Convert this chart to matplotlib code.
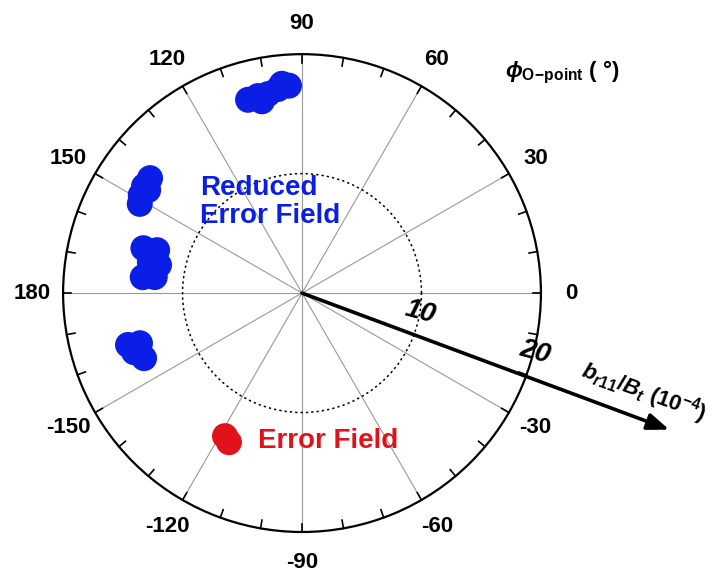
import numpy as np
import matplotlib.pyplot as plt

plt.rcParams['font.family'] = ['Liberation Sans', 'DejaVu Sans']
plt.rcParams['font.weight'] = 'bold'
plt.rcParams['mathtext.fontset'] = 'custom'
plt.rcParams['mathtext.it'] = 'Liberation Sans:italic:bold'
plt.rcParams['mathtext.rm'] = 'Liberation Sans:bold'
plt.rcParams['mathtext.bf'] = 'Liberation Sans:bold'

# O-point phase (deg) and amplitude b_r11/B_t (1e-4)
reduced_phi = [105.6, 102.6, 99.7, 96.7, 93.6, 95.5, 101.8,
               142.9, 145.9, 148.7, 151.2, 146.2,
               164.2, 163.5, 168.5, 168.9, 174.3, 173.8,
               -163.4, -162.8, -157.6, -160.6]
reduced_b = [16.8, 16.9, 16.9, 17.2, 17.4, 17.6, 16.4,
             15.95, 15.97, 15.8, 15.5, 15.5,
             13.8, 12.65, 13.0, 12.2, 13.4, 12.4,
             15.2, 14.2, 14.3, 14.9]
error_phi = [-118.3, -116.1]
error_b = [13.6, 13.9]

theta_ticks = [0, 30, 60, 90, 120, 150, 180, 210, 240, 270, 300, 330]
theta_labels = ['0', '30', '60', '90', '120', '150', '180',
                '-150', '-120', '-90', '-60', '-30']
r_max = 20
arrow_phi = -20.4
arrow_len = 32.8

fig = plt.figure(figsize=(7.22, 5.75), dpi=100)
ax = fig.add_axes([0.0873, 0.0748, 0.662, 0.831], projection='polar')

ax.scatter(np.radians(reduced_phi), reduced_b, s=350, color='#0a1ee6',
           edgecolors='none', zorder=3)
ax.scatter(np.radians(error_phi), error_b, s=350, color='#e0121a',
           edgecolors='none', zorder=3)

ax.set_ylim(0, r_max)
ax.set_yticks([10])
ax.set_yticklabels([])
ax.yaxis.grid(True, linestyle=(0, (1.5, 2)), color='k', lw=1.1)

ax.set_xticks(np.radians(theta_ticks))
ax.set_xticklabels(theta_labels, fontsize=16, fontweight='bold')
ax.xaxis.grid(True, color='#999999', lw=0.8)
ax.tick_params(axis='x', pad=15, length=0)
ax.spines['polar'].set_linewidth(1.6)

# small inward ticks every 10 deg on the outer circle
for t in np.radians(np.arange(0, 360, 10)):
    ax.plot([t, t], [r_max * 0.965, r_max], color='k', lw=1.2,
            clip_on=False, zorder=4)

# amplitude axis arrow
ax.annotate('', xy=(np.radians(arrow_phi), arrow_len), xytext=(0, 0),
            arrowprops=dict(arrowstyle='-|>,head_length=1.3,head_width=0.5',
                            color='k', lw=2.6, shrinkA=0, shrinkB=0),
            annotation_clip=False, zorder=5)

fig.text(420 / 722, 1 - 312 / 575, '10', fontsize=20, style='italic',
         fontweight='bold', rotation=-15, ha='center', va='center')
fig.text(535 / 722, 1 - 352 / 575, '20', fontsize=20, style='italic',
         fontweight='bold', rotation=-15, ha='center', va='center')
fig.text(580 / 722, 1 - 376 / 575, r'$b_{r11}/B_t\ (10^{-4})$', fontsize=16,
         rotation=-20, ha='left', va='baseline', rotation_mode='anchor')

fig.text(505 / 722, 1 - 72 / 575, r'$\phi_{\mathrm{O\!-\!point}}$ ( °)',
         fontsize=16, ha='left', va='center')

fig.text(200 / 722, 1 - 202 / 575, 'Reduced\nError Field', fontsize=20,
         fontweight='bold', color='#0a1ee6', ha='left', va='center',
         linespacing=1.1)
fig.text(258 / 722, 1 - 441 / 575, 'Error Field', fontsize=20,
         fontweight='bold', color='#e0121a', ha='left', va='center')

plt.savefig('out.png', dpi=100)
